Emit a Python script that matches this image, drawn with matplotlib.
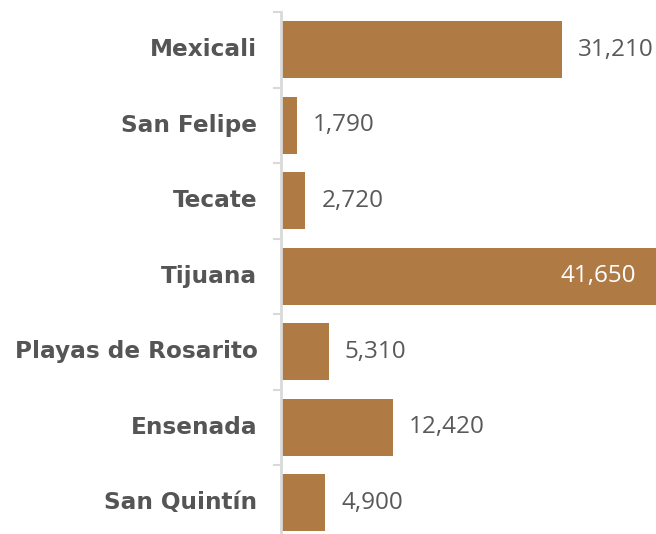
import matplotlib
matplotlib.use("Agg")
from matplotlib import pyplot as plt
import numpy as np

municipios = ["Mexicali", "San Felipe", "Tecate", "Tijuana",
              "Playas de Rosarito", "Ensenada", "San Quintín"]
valores = [31210, 1790, 2720, 41650, 5310, 12420, 4900]

bar_color = "#B07A45"
label_color = "#555555"
value_color = "#595959"

fig = plt.figure(figsize=(6.56, 5.34), dpi=100)
ax = fig.add_axes([281/656, -6.5/534, 1 - 281/656, 528.5/534])

y = np.arange(len(municipios))
ax.barh(y, valores, height=0.76, color=bar_color, edgecolor="none")
ax.set_ylim(len(municipios) - 0.5, -0.5)
ax.set_xlim(0, max(valores))

# category labels, no tick marks at centers
ax.set_yticks(y)
ax.set_yticklabels(municipios, fontsize=16.7, fontweight="heavy", color=label_color,
                   family="DejaVu Sans", va="center")
ax.tick_params(axis="y", length=0, pad=17)
# separator ticks between categories
ax.set_yticks(np.arange(len(municipios)) - 0.5, minor=True)
ax.tick_params(axis="y", which="minor", length=6, width=1.5, color="#d9d9d9")
ax.set_xticks([])

for s in ["top", "right", "bottom"]:
    ax.spines[s].set_visible(False)
ax.spines["left"].set_color("#d9d9d9")
ax.spines["left"].set_linewidth(2)

vmax = max(valores)
for i, v in enumerate(valores):
    txt = f"{v:,}"
    if v == vmax:
        ax.annotate(txt, (v, i), xytext=(-20, 0), textcoords="offset pixels",
                    ha="right", va="center", fontsize=17.5, color="white",
                    family="Open Sans")
    else:
        ax.annotate(txt, (v, i), xytext=(16, 0), textcoords="offset pixels",
                    ha="left", va="center", fontsize=17.5, color=value_color,
                    family="Open Sans")

fig.savefig("out.png", dpi=100)
